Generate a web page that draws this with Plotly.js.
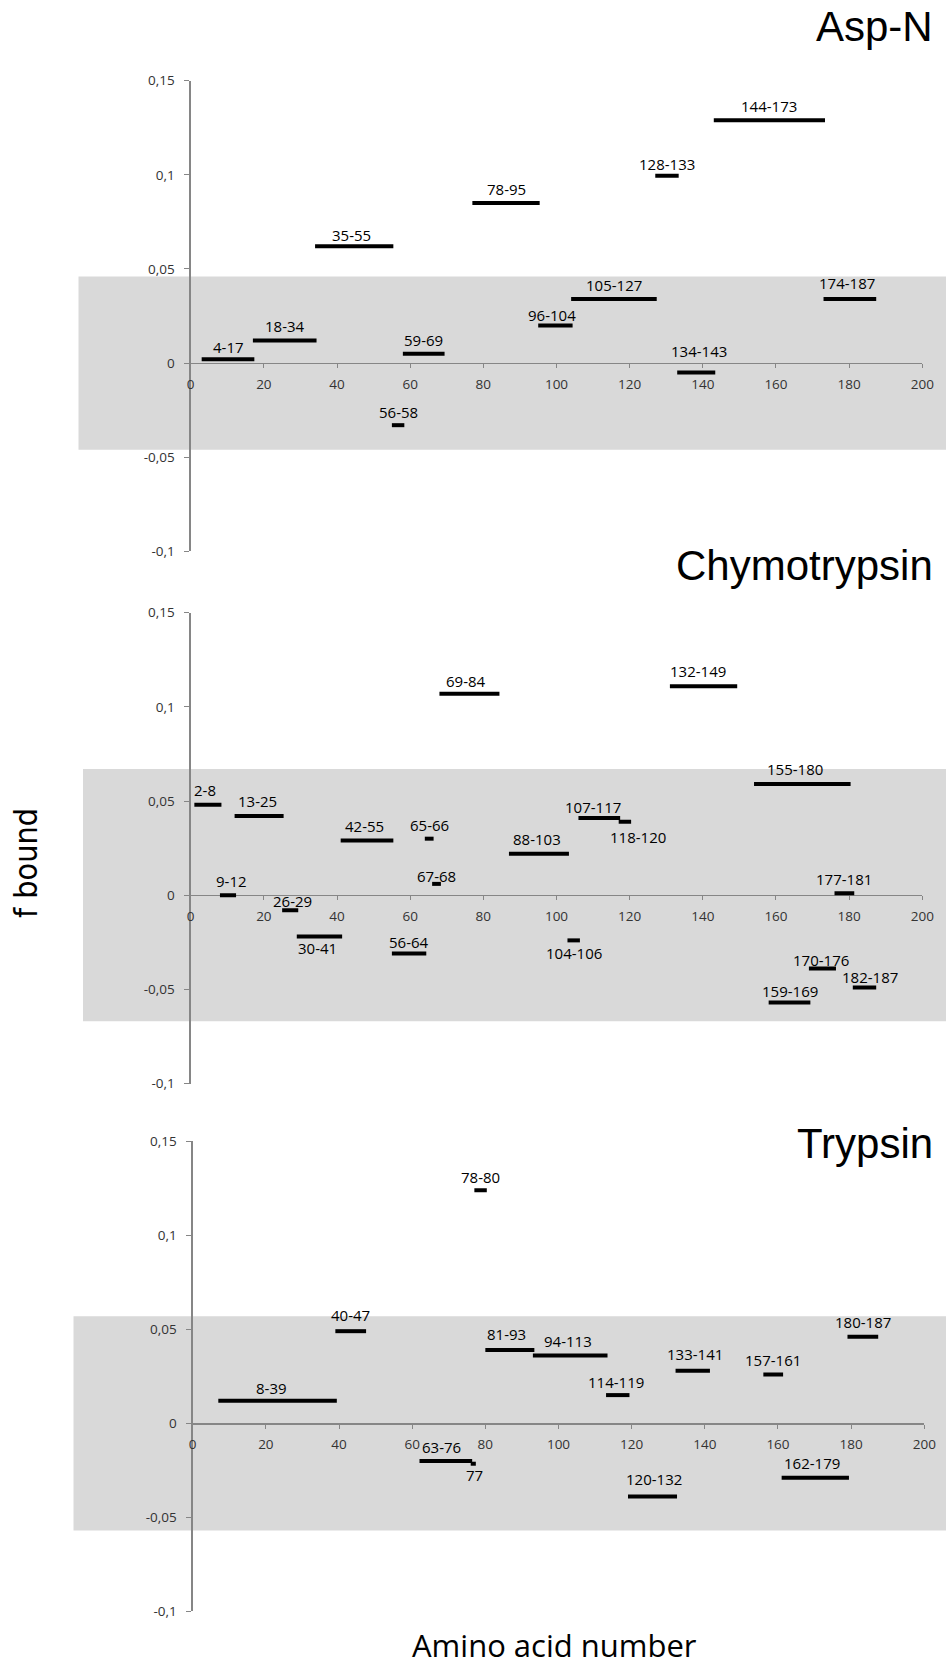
<!DOCTYPE html>
<html>
<head>
<meta charset="utf-8">
<script src="https://cdn.plot.ly/plotly-3.0.1.min.js"></script>
<style>
  html, body { margin: 0; padding: 0; background: #ffffff; }
  #chart { width: 946px; height: 1666px; }
</style>
</head>
<body>
<div id="chart"></div>
<script>
// ---------------- DATA ----------------
const panelTitles = ['Asp-N', 'Chymotrypsin', 'Trypsin'];

const aspnPeptides = ['4-17','18-34','35-55','56-58','59-69','78-95','96-104','105-127','128-133','134-143','144-173','174-187'];
const aspnFBound   = [0.002, 0.012, 0.062, -0.033, 0.005, 0.085, 0.020, 0.034, 0.0995, -0.005, 0.129, 0.034];

const chymoPeptides = ['2-8','9-12','13-25','26-29','30-41','42-55','56-64','65-66','67-68','69-84','88-103','104-106','107-117','118-120','132-149','155-180','159-169','170-176','177-181','182-187'];
const chymoFBound   = [0.048, 0.000, 0.042, -0.008, -0.022, 0.029, -0.031, 0.030, 0.006, 0.107, 0.022, -0.024, 0.041, 0.039, 0.111, 0.059, -0.057, -0.039, 0.001, -0.049];

const trypPeptides = ['8-39','40-47','63-76','77','78-80','81-93','94-113','114-119','120-132','133-141','157-161','162-179','180-187'];
const trypFBound   = [0.012, 0.049, -0.020, -0.0215, 0.124, 0.039, 0.036, 0.015, -0.039, 0.028, 0.026, -0.029, 0.046];

// shaded band half-widths (f bound) for each panel
const bandHalfWidth = [0.046, 0.067, 0.057];

const yTickVals = [-0.1, -0.05, 0, 0.05, 0.1, 0.15];
const yTickText = ['-0,1', '-0,05', '0', '0,05', '0,1', '0,15'];
const xRange = [0, 200];
const yRange = [-0.1, 0.15];

const xTitle = 'Amino acid number';
const yTitle = 'f bound';

// ---------------- STYLE / LAYOUT ----------------
const W = 946, H = 1666;
const px = v => v / W;
const py = v => 1 - v / H;

// plot-area pixel boxes [left, right, top, bottom]
const boxes = [
  [190.7, 922.3, 80.7, 551.3],
  [190.7, 922.3, 612.7, 1083.5],
  [192.7, 924.3, 1141.3, 1611.3]
];
const bandLeft = [78.5, 83, 73.5];
const titleCenterY = [26.5, 565, 1143];

// label nudges [dx, dy] in px (dy>0 = above bar), default [0, 14]
const nudges = [
  {'4-17':[0,12],'35-55':[-3,11],'96-104':[-3,10.5],'128-133':[0,11.7],'134-143':[3,21.6],'174-187':[-2.5,16],'56-58':[0,13.3]},
  {'2-8':[-3,15],'13-25':[-2,15],'9-12':[3,14],'26-29':[2,9],'30-41':[-2,-11.5],'42-55':[-3,15],'56-64':[0,12],
   '67-68':[0,8],'69-84':[-3,13],'88-103':[-2,15],'107-117':[-6,11],'118-120':[12.7,-15],'132-149':[-5.5,15],
   '155-180':[-7.5,15],'104-106':[0,-13],'170-176':[-1,9],'182-187':[5,10],'159-169':[0,12]},
  {'78-80':[0,13],'40-47':[0,16],'8-39':[-6,13],'81-93':[-3,16],'94-113':[-2,15],'63-76':[-4.6,14],'77':[1,-11],
   '180-187':[0,15],'133-141':[2.7,17],'162-179':[-3.5,14.5],'120-132':[1.5,18],'114-119':[-2,13]}
];

const panels = [
  {labels: aspnPeptides, values: aspnFBound},
  {labels: chymoPeptides, values: chymoFBound},
  {labels: trypPeptides, values: trypFBound}
];

const tickFont = {family: 'Open Sans, Liberation Sans, sans-serif', size: 13.5, color: '#333333'};
const labelFont = {family: 'Open Sans, Liberation Sans, sans-serif', size: 15, color: '#000000'};
const axisColor = '#868686';

const traces = [];
const annotations = [];
const shapes = [];
const layout = {
  width: W, height: H,
  margin: {l: 0, r: 0, t: 0, b: 0, pad: 0},
  paper_bgcolor: '#ffffff',
  plot_bgcolor: 'rgba(0,0,0,0)',
  showlegend: false,
  separators: ', ',
  hovermode: false
};

panels.forEach((p, i) => {
  const n = i === 0 ? '' : String(i + 1);
  const xa = 'x' + n, ya = 'y' + n;
  const b = boxes[i];
  const yDom = [py(b[3]), py(b[2])];
  const zeroFrac = (0 - yRange[0]) / (yRange[1] - yRange[0]);

  layout['xaxis' + n] = {
    domain: [px(b[0]), px(b[1])],
    range: xRange,
    anchor: 'free',
    position: yDom[0] + zeroFrac * (yDom[1] - yDom[0]),
    dtick: 20, tick0: 0,
    ticks: 'outside', ticklen: 4, tickwidth: 1, tickcolor: axisColor,
    showline: true, linecolor: axisColor, linewidth: 1.3,
    showgrid: false, zeroline: false,
    tickfont: tickFont,
    ticklabelstandoff: 4,
    layer: 'below traces',
    fixedrange: true
  };
  layout['yaxis' + n] = {
    domain: yDom,
    range: yRange,
    anchor: xa,
    tickmode: 'array', tickvals: yTickVals, ticktext: yTickText,
    ticks: 'outside', ticklen: 5, tickwidth: 1, tickcolor: axisColor,
    showline: true, linecolor: axisColor, linewidth: 1.3,
    showgrid: false, zeroline: false,
    tickfont: tickFont,
    ticklabelstandoff: 7,
    layer: 'below traces',
    fixedrange: true
  };

  // shaded band
  shapes.push({
    type: 'rect', layer: 'below',
    xref: 'paper', x0: px(bandLeft[i]), x1: 1,
    yref: ya, y0: -bandHalfWidth[i], y1: bandHalfWidth[i],
    fillcolor: '#d9d9d9', line: {width: 0}
  });

  // segments
  const xs = [], ys = [];
  p.labels.forEach((lab, k) => {
    const parts = lab.split('-').map(Number);
    const start = parts[0], end = parts.length > 1 ? parts[1] : parts[0];
    const x0 = start - 1, x1 = end + 0.4;
    xs.push(x0, x1, null);
    ys.push(p.values[k], p.values[k], null);
    const nd = nudges[i][lab] || [0, 14];
    annotations.push({
      xref: xa, yref: ya, x: (x0 + x1) / 2, y: p.values[k],
      text: lab, showarrow: false,
      xanchor: 'center', yanchor: 'middle',
      xshift: nd[0], yshift: nd[1],
      font: labelFont
    });
  });
  traces.push({
    type: 'scatter', mode: 'lines', xaxis: xa, yaxis: ya,
    x: xs, y: ys, connectgaps: false,
    line: {color: '#000000', width: 4},
    hoverinfo: 'skip'
  });

  // panel title
  annotations.push({
    xref: 'paper', yref: 'paper', x: px(935), y: py(titleCenterY[i]),
    xanchor: 'right', yanchor: 'middle', showarrow: false,
    text: panelTitles[i],
    font: {family: 'Liberation Sans, Arial, sans-serif', size: 42, color: '#000000'}
  });
});

// axis titles
annotations.push({
  xref: 'paper', yref: 'paper', x: px(26), y: py(863),
  xanchor: 'center', yanchor: 'middle', showarrow: false, textangle: -90,
  text: yTitle,
  font: {family: 'DejaVu Sans Condensed, DejaVu Sans, sans-serif', size: 32, color: '#000000'}
});
annotations.push({
  xref: 'paper', yref: 'paper', x: px(554), y: py(1645),
  xanchor: 'center', yanchor: 'middle', showarrow: false,
  text: xTitle,
  font: {family: 'Open Sans, sans-serif', size: 31, color: '#000000'}
});

layout.shapes = shapes;
layout.annotations = annotations;

Plotly.newPlot('chart', traces, layout, {staticPlot: true, displayModeBar: false});
</script>
</body>
</html>
